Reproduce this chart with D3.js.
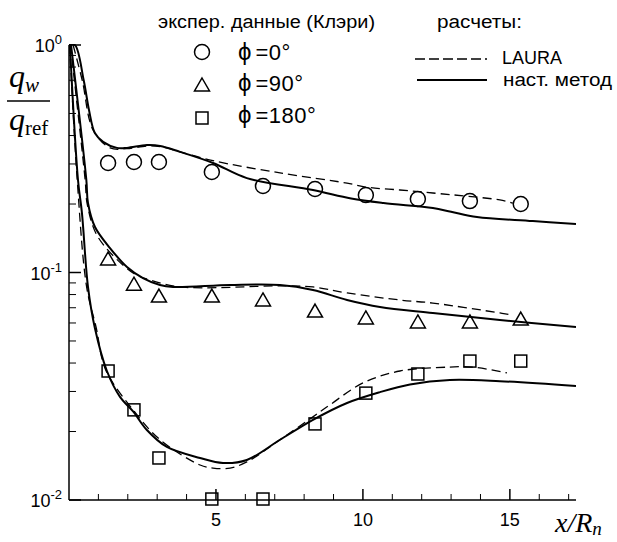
<!DOCTYPE html>
<html>
<head>
<meta charset="utf-8">
<script src="https://cdn.jsdelivr.net/npm/d3@7"></script>
<style>
  body { margin: 0; background: #fff; }
  svg { display: block; }
  text { font-family: "Liberation Sans", Arial, sans-serif; fill: #000; }
  .serif { font-family: "Liberation Serif", "Times New Roman", serif; }
</style>
</head>
<body>
<script>
// experiment (Cleary), same stations for the three meridians
var expX = [1.33, 2.21, 3.06, 4.86, 6.6, 8.37, 10.1, 11.87, 13.64, 15.37];
var expPhi0 = [0.303, 0.306, 0.306, 0.2765, 0.240, 0.2328, 0.219, 0.2104, 0.206, 0.200];
var expPhi90 = [0.1135, 0.088, 0.078, 0.078, 0.075, 0.067, 0.0625, 0.060, 0.060, 0.0618];
var expPhi180 = [0.0369, 0.0249, 0.0153, 0.0101, 0.0101, 0.0216, 0.0295, 0.0358, 0.0408, 0.0408];

// present method (solid)
var solid0X = [0, 0.2, 0.5, 0.68, 0.88, 1.16, 1.63, 1.97, 2.65, 3.1, 3.78, 4.9, 6.05, 8.3, 9.6, 10.7, 12.38, 13.0, 13.88, 15.78, 17.25];
var solid0Y = [1.0, 1.0, 0.70, 0.518, 0.41, 0.375, 0.353, 0.353, 0.363, 0.36, 0.339, 0.303, 0.26, 0.2305, 0.2115, 0.202, 0.192, 0.185, 0.1754, 0.1684, 0.1633];
var solid90X = [0.07, 0.59, 0.646, 0.884, 1.395, 1.973, 2.517, 3.095, 3.54, 5.48, 7.18, 8.3, 9.46, 10.58, 12.38, 14.66, 17.25];
var solid90Y = [1.0, 0.255, 0.202, 0.1585, 0.1281, 0.1057, 0.0945, 0.0881, 0.0864, 0.0881, 0.0881, 0.0838, 0.0757, 0.0705, 0.0664, 0.0618, 0.0576];
var solid180X = [0.03, 0.306, 0.44, 0.646, 0.88, 1.29, 1.735, 2.18, 2.65, 3.33, 4.46, 5.24, 6.05, 7.18, 8.3, 9.46, 10.58, 11.6, 12.96, 14.66, 17.25];
var solid180Y = [1.0, 0.255, 0.183, 0.0864, 0.057, 0.0369, 0.0284, 0.0245, 0.0203, 0.0171, 0.0153, 0.01454, 0.0150, 0.0184, 0.0225, 0.0267, 0.0298, 0.0322, 0.0337, 0.0333, 0.0317];

// LAURA (dashed)
var laura0X = [0.14, 0.45, 0.82, 1.4, 1.97, 2.65, 3.1, 3.78, 4.9, 7.18, 9.46, 10.14, 11.26, 12.38, 14.66, 15.1];
var laura0Y = [1.0, 0.70, 0.423, 0.353, 0.35, 0.36, 0.358, 0.339, 0.31, 0.274, 0.247, 0.237, 0.2305, 0.2236, 0.2084, 0.202];
var laura90X = [0.05, 0.55, 0.62, 0.986, 2.18, 2.76, 3.78, 7.18, 8.3, 9.46, 11.26, 12.38, 14.66, 15.1];
var laura90Y = [1.0, 0.255, 0.20, 0.1432, 0.0995, 0.0927, 0.0864, 0.0873, 0.0864, 0.0813, 0.0757, 0.0734, 0.0664, 0.065];
var laura180X = [0.02, 0.28, 0.6, 0.92, 1.25, 2.18, 3.1, 4.46, 4.9, 5.48, 6.05, 7.18, 8.3, 8.88, 10.0, 11.26, 12.96, 13.74, 14.9];
var laura180Y = [1.0, 0.255, 0.0864, 0.0576, 0.0373, 0.0249, 0.0184, 0.01425, 0.01382, 0.01382, 0.0147, 0.0184, 0.0232, 0.0262, 0.0327, 0.0369, 0.0384, 0.0384, 0.0362];

var xMinor = d3.range(1, 18);
var xMajor = [5, 10, 15];
var yDecades = [-2, -1, 0];

drawChart();

function drawChart() {
  var width = 617, height = 542;
  var pLeft = 69, pRight = 576, pTop = 45, pBottom = 500;

  var svg = d3.select('body').append('svg').attr('width', width).attr('height', height);
  svg.append('rect').attr('width', width).attr('height', height).attr('fill', '#fff');

  var x = d3.scaleLinear().domain([0, 17.25]).range([pLeft, pRight]);
  var y = d3.scaleLog().domain([0.01, 1]).range([pBottom, pTop]);

  svg.append('clipPath').attr('id', 'plot')
    .append('rect').attr('x', pLeft).attr('y', pTop - 1).attr('width', pRight - pLeft).attr('height', pBottom - pTop + 1);

  // axes (ticks point inward)
  var axes = svg.append('g').attr('stroke', '#000').attr('stroke-width', 1.5);
  axes.append('line').attr('x1', pLeft).attr('x2', pLeft).attr('y1', pTop).attr('y2', pBottom);
  axes.append('line').attr('x1', pLeft).attr('x2', pRight).attr('y1', pBottom).attr('y2', pBottom);

  xMinor.forEach(function(v){
    var major = xMajor.indexOf(v) >= 0;
    axes.append('line').attr('x1', x(v)).attr('x2', x(v)).attr('y1', pBottom).attr('y2', pBottom - (major ? 11 : 6))
      .attr('stroke-width', major ? 1.5 : 1);
  });
  yDecades.forEach(function(p){
    var base = Math.pow(10, p);
    axes.append('line').attr('x1', pLeft).attr('x2', pLeft + 12).attr('y1', y(base)).attr('y2', y(base));
    if (p < 0) {
      for (var m = 2; m <= 9; m++) {
        axes.append('line').attr('x1', pLeft).attr('x2', pLeft + 7)
          .attr('y1', y(m * base)).attr('y2', y(m * base)).attr('stroke-width', 1);
      }
    }
  });

  // tick labels
  xMajor.forEach(function(v){
    svg.append('text').attr('x', x(v)).attr('y', pBottom + 26).attr('text-anchor', 'middle')
      .attr('font-size', 18).text(v);
  });
  yDecades.forEach(function(p){
    var t = svg.append('text').attr('x', 62).attr('y', y(Math.pow(10, p)) + 7)
      .attr('text-anchor', 'end').attr('font-size', 18);
    t.append('tspan').text('10');
    t.append('tspan').attr('font-size', 13).attr('dy', -8).text(p === 0 ? '0' : '-' + (-p));
  });

  // curves
  var line = d3.line().x(function(d){ return x(d[0]); }).y(function(d){ return y(d[1]); })
    .curve(d3.curveCatmullRom.alpha(0.5));
  var curves = svg.append('g').attr('clip-path', 'url(#plot)').attr('fill', 'none').attr('stroke', '#000');

  function drawCurve(xs, ys, dashed) {
    curves.append('path')
      .datum(xs.map(function(v, i){ return [v, ys[i]]; }))
      .attr('d', line)
      .attr('stroke-width', dashed ? 1.3 : 2)
      .attr('stroke-dasharray', dashed ? '9,5' : null);
  }
  drawCurve(laura0X, laura0Y, true);
  drawCurve(laura90X, laura90Y, true);
  drawCurve(laura180X, laura180Y, true);
  drawCurve(solid0X, solid0Y, false);
  drawCurve(solid90X, solid90Y, false);
  drawCurve(solid180X, solid180Y, false);

  // markers
  var marks = svg.append('g').attr('fill', 'none').attr('stroke', '#000').attr('stroke-width', 1.5);
  function circleMark(g, cx, cy) { g.append('circle').attr('cx', cx).attr('cy', cy).attr('r', 7.5); }
  function triMark(g, cx, cy) {
    g.append('path').attr('d', 'M' + cx + ',' + (cy - 8) + 'L' + (cx + 7.5) + ',' + (cy + 5) + 'L' + (cx - 7.5) + ',' + (cy + 5) + 'Z');
  }
  function squareMark(g, cx, cy) { g.append('rect').attr('x', cx - 6).attr('y', cy - 6).attr('width', 12).attr('height', 12); }

  expX.forEach(function(v, i){
    circleMark(marks, x(v), y(expPhi0[i]));
    triMark(marks, x(v), y(expPhi90[i]));
    squareMark(marks, x(v), y(expPhi180[i]));
  });

  // legend
  svg.append('text').attr('x', 158).attr('y', 28).attr('font-size', 18)
    .attr('textLength', 217).attr('lengthAdjust', 'spacingAndGlyphs').text('экспер. данные (Клэри)');
  svg.append('text').attr('x', 437).attr('y', 28).attr('font-size', 18)
    .attr('textLength', 85).attr('lengthAdjust', 'spacingAndGlyphs').text('расчеты:');

  var leg = svg.append('g').attr('fill', 'none').attr('stroke', '#000').attr('stroke-width', 1.5);
  circleMark(leg, 202, 52);
  triMark(leg, 202, 86);
  squareMark(leg, 202, 118);
  [['0', 60], ['90', 91], ['180', 123]].forEach(function(r){
    var t = svg.append('text').attr('x', 238).attr('y', r[1]).attr('font-size', 22);
    t.append('tspan').attr('font-size', 24).text('ϕ');
    t.append('tspan').attr('dx', 4).attr('letter-spacing', 0.5).text('=' + r[0] + '°');
  });

  svg.append('line').attr('x1', 415).attr('x2', 487).attr('y1', 59).attr('y2', 59)
    .attr('stroke', '#000').attr('stroke-width', 1.3).attr('stroke-dasharray', '10,4');
  svg.append('text').attr('x', 502).attr('y', 64).attr('font-size', 18)
    .attr('textLength', 60).attr('lengthAdjust', 'spacingAndGlyphs').text('LAURA');
  svg.append('line').attr('x1', 417).attr('x2', 487).attr('y1', 80).attr('y2', 80)
    .attr('stroke', '#000').attr('stroke-width', 2);
  svg.append('text').attr('x', 503).attr('y', 86).attr('font-size', 18)
    .attr('textLength', 109).attr('lengthAdjust', 'spacingAndGlyphs').text('наст. метод');

  // axis titles
  var qw = svg.append('text').attr('class', 'serif').attr('x', 9).attr('y', 87).attr('font-size', 32);
  qw.append('tspan').attr('font-style', 'italic').text('q');
  qw.append('tspan').attr('font-style', 'italic').attr('font-size', 21).attr('dy', 5).text('w');
  svg.append('line').attr('x1', 7).attr('x2', 50).attr('y1', 101).attr('y2', 101)
    .attr('stroke', '#000').attr('stroke-width', 1.5);
  var qr = svg.append('text').attr('class', 'serif').attr('x', 9).attr('y', 130).attr('font-size', 32);
  qr.append('tspan').attr('font-style', 'italic').text('q');
  qr.append('tspan').attr('font-size', 21).attr('dy', 5).text('ref');

  var xl = svg.append('text').attr('class', 'serif').attr('x', 555).attr('y', 532).attr('font-size', 28)
    .attr('font-style', 'italic');
  xl.append('tspan').text('x/R');
  xl.append('tspan').attr('font-size', 19).attr('dy', 3).text('n');
}
</script>
</body>
</html>
